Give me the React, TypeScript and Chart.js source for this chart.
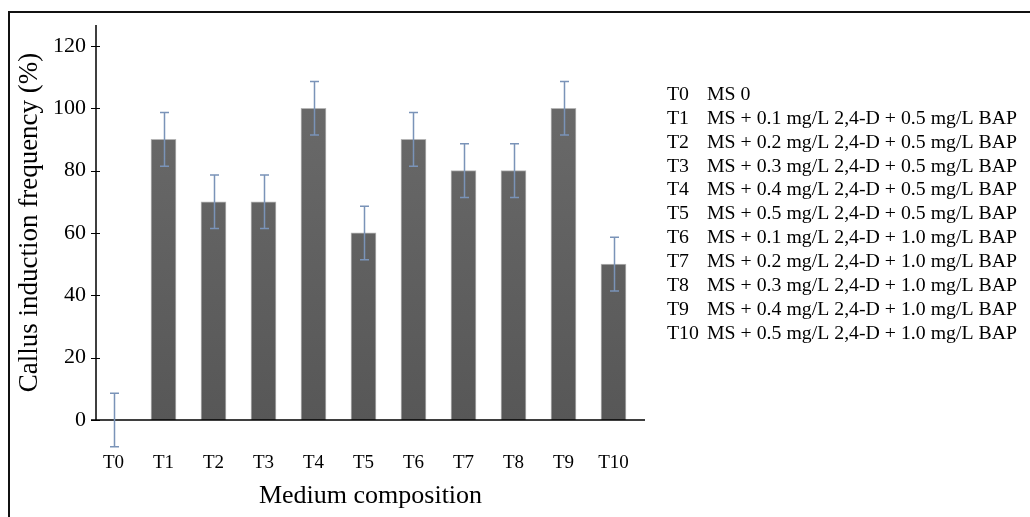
import React, { useEffect, useRef } from "react";
import { Chart, registerables } from "chart.js";

Chart.register(...registerables);

const categories = ["T0", "T1", "T2", "T3", "T4", "T5", "T6", "T7", "T8", "T9", "T10"];
const frequencies = [0, 90, 70, 70, 100, 60, 90, 80, 80, 100, 50];
const errors = [8.6, 8.6, 8.6, 8.6, 8.6, 8.6, 8.6, 8.6, 8.6, 8.6, 8.6];
const yTickValues = [0, 20, 40, 60, 80, 100, 120];
const legendCodes = ["T0", "T1", "T2", "T3", "T4", "T5", "T6", "T7", "T8", "T9", "T10"];
const legendTexts = [
  "MS 0",
  "MS + 0.1 mg/L 2,4-D + 0.5 mg/L BAP",
  "MS + 0.2 mg/L 2,4-D + 0.5 mg/L BAP",
  "MS + 0.3 mg/L 2,4-D + 0.5 mg/L BAP",
  "MS + 0.4 mg/L 2,4-D + 0.5 mg/L BAP",
  "MS + 0.5 mg/L 2,4-D + 0.5 mg/L BAP",
  "MS + 0.1 mg/L 2,4-D + 1.0 mg/L BAP",
  "MS + 0.2 mg/L 2,4-D + 1.0 mg/L BAP",
  "MS + 0.3 mg/L 2,4-D + 1.0 mg/L BAP",
  "MS + 0.4 mg/L 2,4-D + 1.0 mg/L BAP",
  "MS + 0.5 mg/L 2,4-D + 1.0 mg/L BAP",
];

const SERIF = "'Liberation Serif', 'Times New Roman', serif";

const decorPlugin = {
  id: "decor",
  afterDatasetsDraw(chart: any) {
    const { ctx, chartArea, scales } = chart;
    const x = scales.x;
    const y = scales.y;
    ctx.save();
    // axes
    ctx.strokeStyle = "#000";
    ctx.lineWidth = 1.5;
    ctx.beginPath();
    ctx.moveTo(chartArea.left, chartArea.top);
    ctx.lineTo(chartArea.left, chartArea.bottom);
    ctx.moveTo(chartArea.left - 5, chartArea.bottom);
    ctx.lineTo(chartArea.right, chartArea.bottom);
    ctx.stroke();
    ctx.lineWidth = 1.2;
    ctx.beginPath();
    y.ticks.forEach((t: any) => {
      const py = Math.round(y.getPixelForValue(t.value)) + 0.5;
      ctx.moveTo(chartArea.left - 5, py);
      ctx.lineTo(chartArea.left + 4, py);
    });
    ctx.stroke();
    // error bars
    ctx.strokeStyle = "#7a93b8";
    ctx.lineWidth = 1.5;
    frequencies.forEach((v, i) => {
      const px = Math.round(x.getPixelForValue(i)) + 0.5;
      const top = y.getPixelForValue(v + errors[i]);
      const bot = y.getPixelForValue(v - errors[i]);
      ctx.beginPath();
      ctx.moveTo(px, top);
      ctx.lineTo(px, bot);
      ctx.moveTo(px - 4.5, top);
      ctx.lineTo(px + 4.5, top);
      ctx.moveTo(px - 4.5, bot);
      ctx.lineTo(px + 4.5, bot);
      ctx.stroke();
    });
    ctx.restore();
  },
  afterDraw(chart: any) {
    const { ctx } = chart;
    ctx.save();
    // outer frame (top and left edges)
    ctx.strokeStyle = "#111";
    ctx.lineWidth = 2;
    ctx.beginPath();
    ctx.moveTo(1030, 12);
    ctx.lineTo(9, 12);
    ctx.lineTo(9, 517);
    ctx.stroke();
    // legend text block
    ctx.fillStyle = "#000";
    ctx.font = `18px ${SERIF}`;
    ctx.textBaseline = "alphabetic";
    ctx.textAlign = "left";
    legendCodes.forEach((code, i) => {
      const by = 100 + i * 23.85;
      ctx.save();
      ctx.translate(667, by);
      ctx.scale(1.1, 1);
      ctx.fillText(code, 0, 0);
      ctx.restore();
      ctx.save();
      ctx.translate(707, by);
      ctx.scale(1.1, 1);
      ctx.fillText(legendTexts[i], 0, 0);
      ctx.restore();
    });
    ctx.restore();
  },
};

export default function App() {
  const canvasRef = useRef<HTMLCanvasElement | null>(null);

  useEffect(() => {
    const canvas = canvasRef.current;
    if (!canvas) return;
    const chart = new Chart(canvas, {
      type: "bar",
      data: {
        datasets: [
          {
            label: "Callus induction frequency (%)",
            data: frequencies.map((v, i) => ({ x: i, y: v })),
            barThickness: 25,
            borderWidth: 1,
            borderColor: "rgba(150,150,150,0.7)",
            borderSkipped: "bottom",
            backgroundColor: (c: any) => {
              const area = c.chart.chartArea;
              if (!area) return "#606060";
              const g = c.chart.ctx.createLinearGradient(0, area.bottom, 0, area.top);
              g.addColorStop(0, "#575757");
              g.addColorStop(1, "#6e6e6e");
              return g;
            },
          },
        ],
      },
      options: {
        animation: false,
        responsive: false,
        maintainAspectRatio: false,
        events: [],
        layout: { padding: { left: 0, top: 25, right: 385, bottom: 0 } },
        plugins: {
          legend: { display: false },
          tooltip: { enabled: false },
        },
        scales: {
          x: {
            type: "linear",
            offset: false,
            min: -0.35,
            max: 10.63,
            afterBuildTicks: (s: any) => {
              s.ticks = categories.map((_, i) => ({ value: i }));
            },
            afterFit: (s: any) => {
              s.height = 97;
            },
            grid: { display: false, drawTicks: false, offset: false },
            border: { display: false },
            ticks: {
              autoSkip: false,
              maxRotation: 0,
              padding: 32,
              color: "#000",
              font: { family: SERIF, size: 19 },
              callback: (v: any) => categories[v as number] ?? "",
            },
            title: {
              display: true,
              text: "Medium composition",
              color: "#000",
              font: { family: SERIF, size: 26 },
              padding: { top: 0, bottom: 5 },
            },
          },
          y: {
            min: 0,
            max: 126.7,
            afterBuildTicks: (s: any) => {
              s.ticks = yTickValues.map((v) => ({ value: v }));
            },
            afterFit: (s: any) => {
              s.width = 96;
            },
            grid: { display: false, drawTicks: false },
            border: { display: false },
            ticks: {
              padding: 10,
              color: "#000",
              font: { family: SERIF, size: 22 },
            },
            title: {
              display: true,
              text: "Callus induction frequency (%)",
              color: "#000",
              font: { family: SERIF, size: 27 },
              padding: { top: 14, bottom: 0 },
            },
          },
        },
      },
      plugins: [decorPlugin],
    });
    return () => chart.destroy();
  }, []);

  return (
    <div style={{ position: "absolute", left: 0, top: 0, width: 1030, height: 517, background: "#fff" }}>
      <canvas ref={canvasRef} width={1030} height={517} style={{ display: "block", width: 1030, height: 517 }} />
    </div>
  );
}
